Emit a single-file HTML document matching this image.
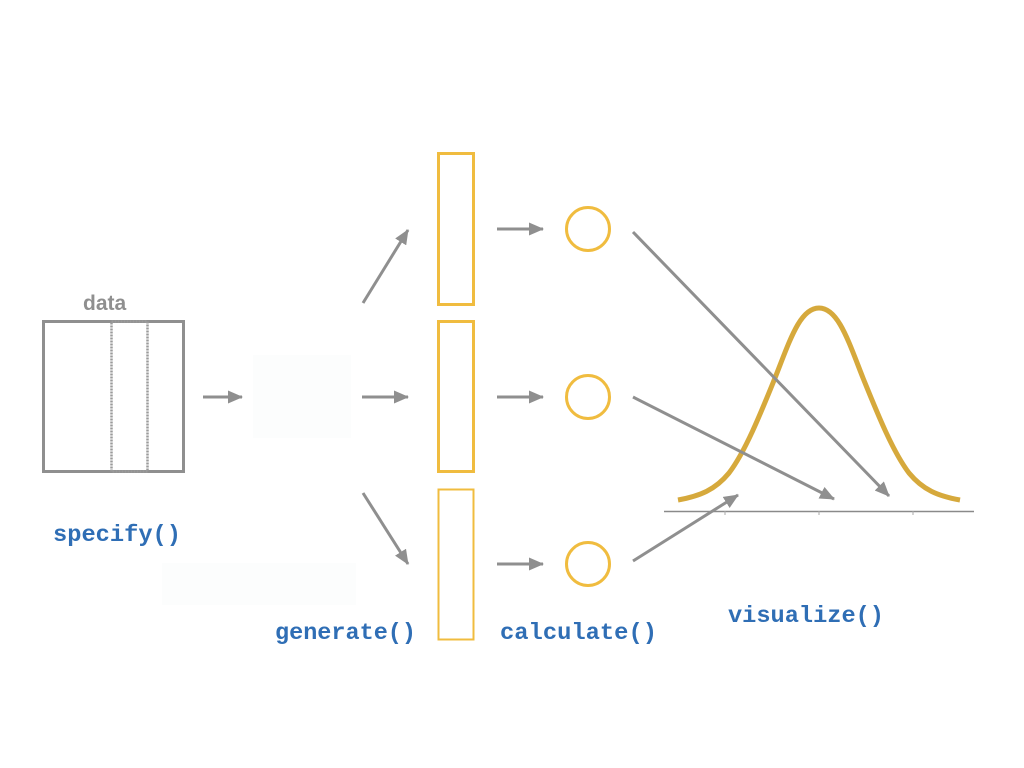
<!DOCTYPE html>
<html><head><style>
html,body{margin:0;padding:0;background:#fff;}
svg{display:block}
.t{font-family:"Liberation Mono",monospace;font-weight:bold;font-size:23.5px;fill:#2f6eb5}
</style></head><body>
<svg width="1024" height="768" viewBox="0 0 1024 768" xmlns="http://www.w3.org/2000/svg">
<defs>
<marker id="b" markerWidth="15" markerHeight="13" refX="14" refY="6.5" orient="auto" markerUnits="userSpaceOnUse">
<path d="M0,0 L15,6.5 L0,13 z" fill="#8f8f8f"/>
</marker>
</defs>
<text x="83" y="310" font-family="Liberation Sans,sans-serif" font-weight="bold" font-size="21" fill="#8f8f8f">data</text>
<rect x="43.5" y="321.5" width="140" height="150" fill="none" stroke="#8f8f8f" stroke-width="3"/>
<rect x="111.5" y="321.5" width="36" height="150" fill="none" stroke="#9a9a9a" stroke-width="2.5" stroke-dasharray="2 1"/>
<rect x="253" y="355" width="98" height="83" fill="#fcfdfd"/>
<rect x="162" y="563" width="194" height="42" fill="#fcfdfd"/>
<g stroke="#8f8f8f" stroke-width="3" fill="none">
<line x1="203" y1="397" x2="242" y2="397" marker-end="url(#b)"/>
<line x1="362" y1="397" x2="408" y2="397" marker-end="url(#b)"/>
<line x1="363" y1="303" x2="408" y2="230" marker-end="url(#b)"/>
<line x1="363" y1="493" x2="408" y2="564" marker-end="url(#b)"/>
<line x1="497" y1="229" x2="543" y2="229" marker-end="url(#b)"/>
<line x1="497" y1="397" x2="543" y2="397" marker-end="url(#b)"/>
<line x1="497" y1="564" x2="543" y2="564" marker-end="url(#b)"/>
</g>
<g fill="none" stroke="#f0bc3f" stroke-width="3">
<rect x="438.5" y="153.5" width="35" height="151"/>
<rect x="438.5" y="321.5" width="35" height="150"/>
<rect x="438.5" y="489.5" width="35" height="150" stroke-width="2"/>
<circle cx="588" cy="229" r="21.5"/>
<circle cx="588" cy="397" r="21.5"/>
<circle cx="588" cy="564" r="21.5"/>
</g>
<line x1="664" y1="511.5" x2="974" y2="511.5" stroke="#8a8a8a" stroke-width="1.5"/>
<g stroke="#aaa" stroke-width="1"><line x1="725" y1="511" x2="725" y2="515"/><line x1="819" y1="511" x2="819" y2="515"/><line x1="913" y1="511" x2="913" y2="515"/></g>
<path fill="none" stroke="#d6a93c" stroke-width="5" stroke-linejoin="round"
d="M678,500 C700,496 715,490 729,473 C745,452 760,415 775,378 C790,340 800,308 819,308 C838,308 848,340 863,378 C878,415 893,452 909,473 C923,490 938,496 960,500"/>
<g stroke="#8f8f8f" stroke-width="3" fill="none">
<line x1="633" y1="232" x2="889" y2="496" marker-end="url(#b)"/>
<line x1="633" y1="397" x2="834" y2="499" marker-end="url(#b)"/>
<line x1="633" y1="561" x2="738" y2="495" marker-end="url(#b)"/>
</g>
<text class="t" x="53" y="541" textLength="128" lengthAdjust="spacingAndGlyphs">specify()</text>
<text class="t" x="275" y="639" textLength="141" lengthAdjust="spacingAndGlyphs">generate()</text>
<text class="t" x="500" y="639" textLength="157" lengthAdjust="spacingAndGlyphs">calculate()</text>
<text class="t" x="728" y="622" textLength="156" lengthAdjust="spacingAndGlyphs">visualize()</text>
</svg>
</body></html>
